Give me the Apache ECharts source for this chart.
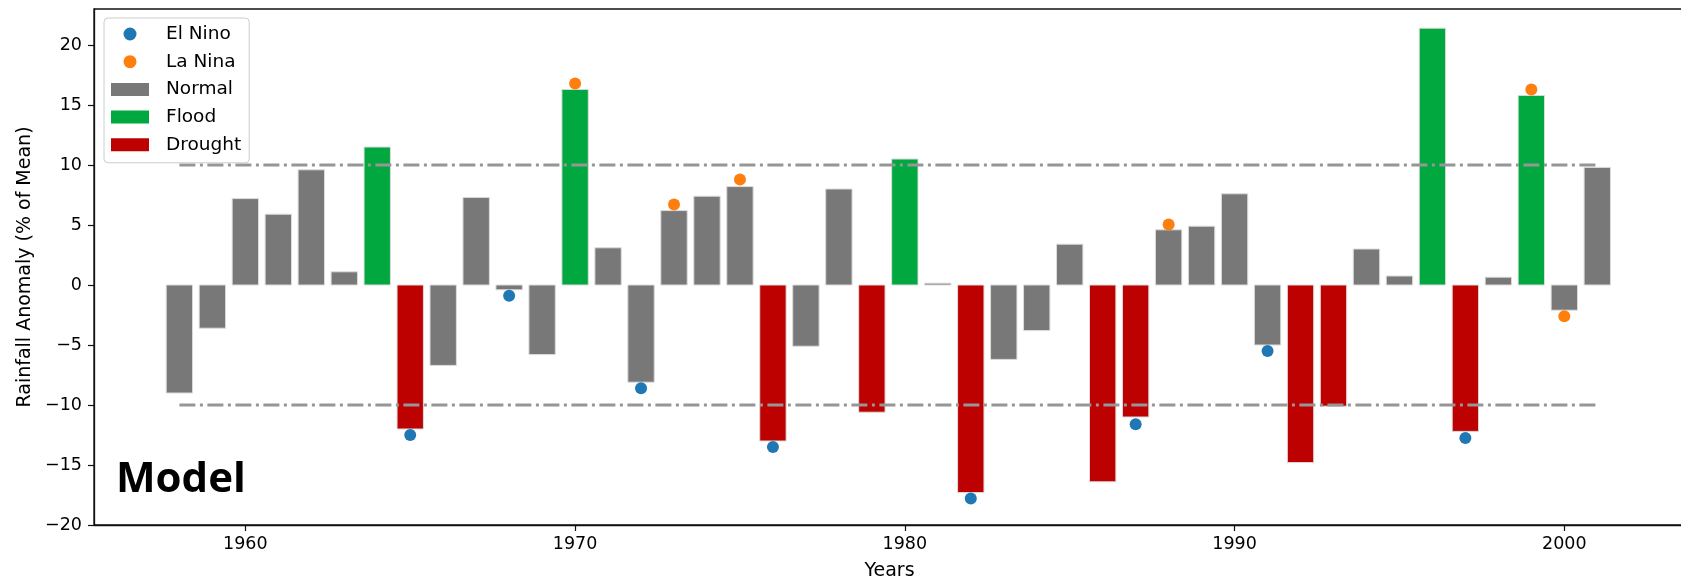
<!DOCTYPE html>
<html>
<head>
<meta charset="utf-8">
<title>Rainfall Anomaly</title>
<script src="https://cdn.jsdelivr.net/npm/echarts@6/dist/echarts.min.js"></script>
<style>
  html, body { margin: 0; padding: 0; background: #ffffff; }
  #chart { width: 1681px; height: 582px; }
</style>
</head>
<body>
<div id="chart"></div>
<script>
// Annual rainfall anomaly (% of mean), 1958-2001
const years = [1958, 1959, 1960, 1961, 1962, 1963, 1964, 1965, 1966, 1967, 1968,
               1969, 1970, 1971, 1972, 1973, 1974, 1975, 1976, 1977, 1978, 1979,
               1980, 1981, 1982, 1983, 1984, 1985, 1986, 1987, 1988, 1989, 1990,
               1991, 1992, 1993, 1994, 1995, 1996, 1997, 1998, 1999, 2000, 2001];
const anomaly = [-9.0, -3.6, 7.2, 5.9, 9.6, 1.1, 11.5, -12.0, -6.7, 7.3, -0.4,
                 -5.8, 16.3, 3.1, -8.1, 6.2, 7.4, 8.2, -13.0, -5.1, 8.0, -10.6,
                 10.5, 0.15, -17.3, -6.2, -3.8, 3.4, -16.4, -11.0, 4.6, 4.9, 7.6,
                 -5.0, -14.8, -10.1, 3.0, 0.75, 21.4, -12.2, 0.65, 15.8, -2.1, 9.8];

// ENSO event years and marker values
const elNinoYears = [1965, 1968, 1972, 1976, 1982, 1987, 1991, 1997];
const elNinoValues = [-12.5, -0.9, -8.6, -13.5, -17.8, -11.6, -5.5, -12.75];
const laNinaYears = [1970, 1973, 1975, 1988, 1999, 2000];
const laNinaValues = [16.8, 6.7, 8.8, 5.05, 16.3, -2.6];

// Drought / flood thresholds and the span they are drawn over
const thresholds = [-10, 10];
const thresholdSpan = [1958, 2001];

// Axis ticks
const xTicks = [1960, 1970, 1980, 1990, 2000];
const yTicks = [-20, -15, -10, -5, 0, 5, 10, 15, 20];

const BAR_HALF = 0.4;
const FONT = 'DejaVu Sans';

const normalData = [], floodData = [], droughtData = [];
years.forEach((y, i) => {
  const v = anomaly[i];
  if (v > thresholds[1]) floodData.push([y, v]);
  else if (v < thresholds[0]) droughtData.push([y, v]);
  else normalData.push([y, v]);
});

function renderBar(params, api) {
  const x = api.value(0), v = api.value(1);
  const p0 = api.coord([x - BAR_HALF, v]);
  const p1 = api.coord([x + BAR_HALF, 0]);
  return {
    type: 'rect',
    shape: {
      x: p0[0],
      y: Math.min(p0[1], p1[1]),
      width: p1[0] - p0[0],
      height: Math.abs(p1[1] - p0[1])
    },
    style: { fill: api.visual('color'), stroke: '#dcdcdc', lineWidth: 1 }
  };
}

function barSeries(name, color, data) {
  return {
    name, type: 'custom', renderItem: renderBar,
    itemStyle: { color }, data, z: 2,
    encode: { x: 0, y: 1 }
  };
}

function thresholdSeries(level) {
  return {
    type: 'line', silent: true, symbol: 'none', z: 3,
    lineStyle: { color: '#969696', width: 3, type: [16, 4.5, 3, 4.5] },
    data: thresholdSpan.map(y => [y, level])
  };
}

function dotSeries(name, color, xs, vs) {
  return {
    name, type: 'scatter', symbol: 'circle', symbolSize: 12, z: 4,
    itemStyle: { color, opacity: 1 },
    data: xs.map((y, i) => [y, vs[i]])
  };
}

const chart = echarts.init(document.getElementById('chart'), null, { renderer: 'canvas' });

chart.setOption({
  backgroundColor: '#ffffff',
  animation: false,
  grid: {
    left: 94, top: 9, right: -4, bottom: 57,
    outerBoundsMode: 'none', containLabel: false,
    show: true, borderColor: '#111111', borderWidth: 1.3, backgroundColor: 'transparent'
  },
  legend: {
    orient: 'vertical', left: 104, top: 18,
    padding: [6, 8, 8, 7],
    itemWidth: 38, itemHeight: 13, itemGap: 7.7,
    backgroundColor: '#ffffff',
    borderColor: '#cccccc', borderWidth: 1, borderRadius: 4,
    textStyle: { fontFamily: FONT, fontSize: 18.5, color: '#000000', lineHeight: 20, padding: [0, 0, 0, 12] },
    data: [
      { name: 'El Nino', icon: 'circle' },
      { name: 'La Nina', icon: 'circle' },
      { name: 'Normal', icon: 'rect' },
      { name: 'Flood', icon: 'rect' },
      { name: 'Drought', icon: 'rect' }
    ],
    z: 10
  },
  xAxis: {
    type: 'value', min: 1955.41, max: 2003.66,
    name: 'Years', nameLocation: 'middle', nameGap: 46,
    nameTextStyle: { fontFamily: FONT, fontSize: 19, color: '#000000', verticalAlign: 'middle' },
    axisLine: { show: true, onZero: false, lineStyle: { color: '#111111', width: 1.3 } },
    axisTick: { show: true, length: 6, customValues: xTicks, lineStyle: { color: '#111111', width: 1.2 } },
    axisLabel: {
      customValues: xTicks, margin: 10,
      fontFamily: FONT, fontSize: 17.5, color: '#000000',
      formatter: v => String(v)
    },
    splitLine: { show: false }
  },
  yAxis: {
    type: 'value', min: -20, max: 23,
    name: 'Rainfall Anomaly (% of Mean)', nameLocation: 'middle', nameGap: 57, nameRotate: 90,
    nameTextStyle: { fontFamily: FONT, fontSize: 19, color: '#000000' },
    axisLine: { show: true, onZero: false, lineStyle: { color: '#111111', width: 1.3 } },
    axisTick: { show: true, length: 6, customValues: yTicks, lineStyle: { color: '#111111', width: 1.2 } },
    axisLabel: {
      customValues: yTicks, margin: 12,
      fontFamily: FONT, fontSize: 17.5, color: '#000000',
      formatter: v => (v < 0 ? '\u2212' + Math.abs(v) : String(v))
    },
    splitLine: { show: false }
  },
  graphic: [{
    type: 'text', left: 116, top: 459, z: 20,
    style: { text: 'Model', font: 'bold 42px "Open Sans"', fill: '#000000' }
  }],
  series: [
    dotSeries('El Nino', '#1f77b4', elNinoYears, elNinoValues),
    dotSeries('La Nina', '#ff7f0e', laNinaYears, laNinaValues),
    barSeries('Normal', '#787878', normalData),
    barSeries('Flood', '#00a83f', floodData),
    barSeries('Drought', '#bd0000', droughtData),
    thresholdSeries(thresholds[0]),
    thresholdSeries(thresholds[1])
  ]
});
</script>
</body>
</html>
